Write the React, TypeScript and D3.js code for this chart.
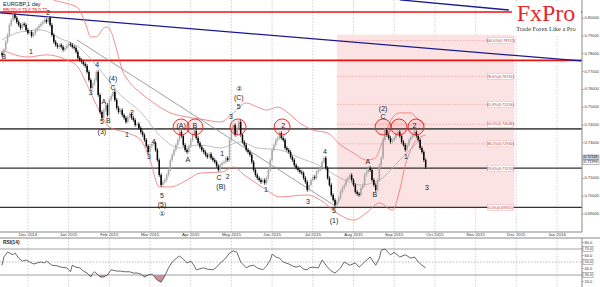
import React from 'react';
import * as d3 from 'd3';

// ---- data ----
const closes: number[] = [
  0.7794, 0.7822, 0.7867, 0.7906, 0.7962, 0.7990, 0.8018, 0.8002, 0.7979, 0.7962,
  0.7945, 0.7968, 0.7962, 0.7934, 0.7917, 0.7923, 0.7900, 0.7911, 0.7934, 0.7945,
  0.7957, 0.7968, 0.7979, 0.7990, 0.7979, 0.8002, 0.7962, 0.7906, 0.7867, 0.7850,
  0.7839, 0.7850, 0.7839, 0.7822, 0.7833, 0.7844, 0.7856, 0.7850, 0.7839, 0.7833,
  0.7811, 0.7777, 0.7765, 0.7754, 0.7743, 0.7732, 0.7698, 0.7653, 0.7608, 0.7631,
  0.7653, 0.7698, 0.7569, 0.7473, 0.7440, 0.7484, 0.7513, 0.7456, 0.7541, 0.7563,
  0.7586, 0.7541, 0.7496, 0.7473, 0.7484, 0.7456, 0.7440, 0.7417, 0.7445, 0.7462,
  0.7440, 0.7428, 0.7400, 0.7406, 0.7383, 0.7361, 0.7344, 0.7316, 0.7282, 0.7248,
  0.7282, 0.7293, 0.7299, 0.7260, 0.7203, 0.7119, 0.7063, 0.7080, 0.7091, 0.7119,
  0.7147, 0.7203, 0.7232, 0.7260, 0.7288, 0.7316, 0.7361, 0.7338, 0.7288, 0.7260,
  0.7248, 0.7282, 0.7316, 0.7344, 0.7366, 0.7327, 0.7299, 0.7277, 0.7260, 0.7248,
  0.7232, 0.7220, 0.7237, 0.7215, 0.7203, 0.7192, 0.7170, 0.7147, 0.7175, 0.7187,
  0.7192, 0.7215, 0.7203, 0.7316, 0.7372, 0.7400, 0.7344, 0.7383, 0.7417, 0.7344,
  0.7305, 0.7288, 0.7260, 0.7248, 0.7232, 0.7192, 0.7147, 0.7119, 0.7102, 0.7091,
  0.7080, 0.7091, 0.7074, 0.7102, 0.7147, 0.7203, 0.7260, 0.7288, 0.7316, 0.7327,
  0.7355, 0.7327, 0.7316, 0.7271, 0.7260, 0.7248, 0.7220, 0.7203, 0.7175, 0.7159,
  0.7147, 0.7136, 0.7130, 0.7102, 0.7080, 0.7035, 0.7063, 0.7091, 0.7108, 0.7102,
  0.7136, 0.7147, 0.7159, 0.7192, 0.7215, 0.7159, 0.7102, 0.7063, 0.7007, 0.6979,
  0.6951, 0.6968, 0.6990, 0.7024, 0.7046, 0.7063, 0.7091, 0.7102, 0.7119, 0.7091,
  0.7063, 0.7024, 0.7013, 0.7007, 0.7046, 0.7063, 0.7119, 0.7136, 0.7159, 0.7147,
  0.7091, 0.7063, 0.7035, 0.7091, 0.7175, 0.7215, 0.7316, 0.7372, 0.7344, 0.7327,
  0.7305, 0.7316, 0.7327, 0.7350, 0.7361, 0.7338, 0.7305, 0.7288, 0.7260, 0.7288,
  0.7316, 0.7333, 0.7344, 0.7361, 0.7338, 0.7316, 0.7271, 0.7248, 0.7203, 0.7164,
];

const upperBand: [number, number][] = [
  [15, 0.8215], [23, 0.8148], [28, 0.8103], [34, 0.8086], [41, 0.8058], [45, 0.7973],
  [48, 0.7895], [51, 0.7895], [55, 0.7945], [57, 0.7951], [59, 0.7923], [62, 0.7822],
  [65, 0.7709], [68, 0.7653], [75, 0.7580], [82, 0.7524], [91, 0.7468], [100, 0.7445],
  [107, 0.7434], [118, 0.7417], [125, 0.7468], [132, 0.7524], [138, 0.7501], [143, 0.7484],
  [149, 0.7501], [154, 0.7473], [161, 0.7411], [168, 0.7372], [176, 0.7355], [183, 0.7288],
  [190, 0.7243], [197, 0.7203], [202, 0.7215], [204, 0.7260], [208, 0.7372], [211, 0.7440],
  [215, 0.7468], [221, 0.7468], [224, 0.7440], [229, 0.7400],
];
const lowerBand: [number, number][] = [
  [0, 0.7822], [14, 0.7782], [24, 0.7794], [35, 0.7765], [41, 0.7726], [46, 0.7625],
  [51, 0.7513], [58, 0.7389], [68, 0.7355], [75, 0.7316], [80, 0.7203], [85, 0.7052],
  [91, 0.7052], [100, 0.7091], [107, 0.7130], [119, 0.7136], [125, 0.7164], [131, 0.7119],
  [143, 0.7035], [150, 0.6996], [165, 0.7007], [172, 0.6979], [181, 0.6906], [190, 0.6866],
  [197, 0.6906], [204, 0.6962], [211, 0.6922], [215, 0.7035], [218, 0.7175], [221, 0.7260],
  [224, 0.7316], [229, 0.7344],
];
const middleBand: [number, number][] = [
  [0, 0.7878], [10, 0.7923], [21, 0.7934], [31, 0.7889], [42, 0.7833], [53, 0.7709],
  [64, 0.7569], [75, 0.7473], [85, 0.7344], [96, 0.7271], [107, 0.7288], [118, 0.7271],
  [129, 0.7305], [138, 0.7271], [150, 0.7260], [161, 0.7215], [171, 0.7175], [183, 0.7102],
  [194, 0.7063], [204, 0.7091], [215, 0.7203], [226, 0.7316],
];

const rsi: [number, number][] = [
  [0, 45], [1, 57.7], [3, 65], [4, 64], [6, 61], [7, 64], [9, 56], [11, 51.5], [13, 53],
  [15, 50], [17, 47], [19, 48.5], [21, 50], [23, 48.5], [24, 51.5], [27, 45], [30, 44],
  [32, 42], [35, 41], [37, 35], [38, 45], [40, 42], [42, 41], [44, 36], [46, 33], [48, 27],
  [49, 32], [50, 35], [52, 30], [53, 27], [55, 27], [57, 30], [59, 38], [62, 36], [64, 36],
  [66, 35], [69, 35], [71, 33], [73, 33], [75, 31.5], [77, 27], [79, 30], [81, 31.5],
  [82, 28.5], [84, 22], [86, 19], [88, 28.5], [90, 41], [92, 50], [95, 57.7], [96, 59],
  [98, 54.6], [100, 48.5], [102, 51.5], [104, 44], [105, 38], [109, 41], [111, 39],
  [114, 38], [116, 42], [118, 48.5], [121, 56], [123, 64], [125, 67], [127, 65], [129, 50],
  [131, 44], [132, 41], [134, 44], [136, 45], [138, 41], [141, 38], [143, 44], [145, 53],
  [146, 62], [148, 57.7], [150, 56], [152, 50], [155, 47], [157, 44], [159, 42], [161, 44],
  [163, 39], [165, 38], [166, 41], [168, 42], [171, 41], [173, 53], [176, 42], [178, 36],
  [180, 33], [182, 38], [183, 41], [185, 50], [188, 45], [191, 48.5], [193, 42], [196, 50],
  [199, 57.7], [202, 45], [204, 56], [205, 68], [207, 70], [210, 61], [212, 65], [215, 57.7],
  [218, 61], [221, 56], [223, 57.7], [225, 50], [227, 45], [229, 41],
];

const monthLabels = ['Dec 2014', 'Jan 2015', 'Feb 2015', 'Mar 2015', 'Apr 2015', 'May 2015', 'Jun 2015',
  'Jul 2015', 'Aug 2015', 'Sep 2015', 'Oct 2015', 'Nov 2015', 'Dec 2015', 'Jan 2016'];
const monthBars = [14, 36, 58, 80, 102, 124, 146, 168, 190, 212, 234, 256, 278, 300];

const priceTicks = [0.80, 0.79, 0.78, 0.77, 0.76, 0.75, 0.74, 0.73, 0.71, 0.70, 0.69];
const rsiTicks = [80, 70, 60, 50, 40, 30, 20];

const redLevels = [0.8035, 0.7763];
const grayLevels = [0.7378, 0.7158, 0.6937];
const blueLine1: [number, number][] = [[-1, 0.8030], [313, 0.7760]];
const blueLine2: [number, number][] = [[215, 0.8103], [274, 0.8046]];
const grayTrend: [number, number][] = [[40.5, 0.7878], [181, 0.6939]];

const fibStart = 181, fibEnd = 277;
const fibLow = 0.69355, fibHigh = 0.78741;
const fibRatios = [1.0, 0.786, 0.618, 0.5, 0.382, 0.236, 0.0];

const waveLabels: [string, number, number][] = [
  ['B', 1, 0.7782], ['1', 15.7, 0.7810], ['2', 25, 0.8030], ['4', 51.4, 0.7737], ['3', 48, 0.7580],
  ['(4)', 60, 0.7658], ['C', 60, 0.7606], ['A', 55, 0.7529], ['B', 57.5, 0.7423], ['5', 54, 0.7414],
  ['(3)', 54, 0.7358], ['2', 70.3, 0.7468], ['1', 67.6, 0.7344], ['4', 82, 0.7305], ['3', 79.5, 0.7220],
  ['5', 86.5, 0.7000], ['(5)', 86.5, 0.6952], ['①', 86.5, 0.6900], ['(A)', 96.8, 0.7392],
  ['A', 100.5, 0.7203], ['B', 104.3, 0.7392], ['1', 119, 0.7237], ['C', 117.3, 0.7102],
  ['(B)', 118.4, 0.7050], ['2', 122, 0.7108], ['3', 123.8, 0.7445], ['5', 128, 0.7501],
  ['(C)', 128, 0.7552], ['②', 128, 0.7600], ['1', 142.7, 0.7035], ['2', 152, 0.7392],
  ['3', 165.4, 0.6967], ['4', 174.6, 0.7248], ['5', 179.5, 0.6914], ['(1)', 179.5, 0.6862],
  ['A', 197.8, 0.7192], ['B', 201.6, 0.7007], ['(2)', 206, 0.7490], ['C', 206, 0.7442],
  ['1', 218.4, 0.7220], ['2', 223, 0.7392], ['3', 229.7, 0.7046],
];
const circles: [number, number][] = [
  [96.8, 0.7389], [104.3, 0.7389], [127.6, 0.7389], [151.4, 0.7389], [206, 0.7389], [214.6, 0.7389], [223.8, 0.7389],
];

export default function App() {
  const W = 600, H = 287;
  const axisX = 582;
  const mainBottom = 232;
  const rsiTop = 238;
  const x = d3.scaleLinear().domain([0, 300]).range([2, 557]);
  const y = d3.scaleLinear().domain([0.69, 0.80]).range([214, 18.2]);
  const yr = d3.scaleLinear().domain([30, 70]).range([275, 249]);
  const font = 'Liberation Sans, Arial, sans-serif';

  const bandLine = d3.line<[number, number]>().x(d => x(d[0])).y(d => y(d[1])).curve(d3.curveMonotoneX);
  const rsiLine = d3.line<[number, number]>().x(d => x(d[0])).y(d => yr(d[1]));
  const rsiArea = d3.area<[number, number]>().x(d => x(d[0])).y0(yr(30)).y1(d => yr(d[1]));

  const fibY0 = y(fibLow), fibY1 = y(fibHigh) - 6;

  return (
    <div style={{ position: 'fixed', left: 0, top: 0 }}>
      <svg width={W} height={H} style={{ display: 'block', background: '#fff' }}>
        <defs>
          <clipPath id="main"><rect x={0} y={0} width={axisX} height={mainBottom} /></clipPath>
          <clipPath id="rsiBelow"><rect x={0} y={yr(30)} width={axisX} height={40} /></clipPath>
          <clipPath id="rsiPanel"><rect x={0} y={rsiTop} width={axisX} height={H - rsiTop} /></clipPath>
        </defs>

        {/* grid verticals */}
        {monthBars.map((b, i) => (
          <g key={'g' + i}>
            <line x1={x(b)} x2={x(b)} y1={0} y2={mainBottom} stroke="#c8c8c8" strokeWidth={0.8} strokeDasharray="1.5,1.5" />
            <line x1={x(b)} x2={x(b)} y1={rsiTop} y2={H} stroke="#c8c8c8" strokeWidth={0.8} strokeDasharray="1.5,1.5" />
          </g>
        ))}

        <g clipPath="url(#main)">
          {/* fibonacci zone */}
          <rect x={x(fibStart)} y={fibY1} width={x(fibEnd) - x(fibStart)} height={fibY0 - fibY1} fill="#fbe3e3" />
          {fibRatios.map((r, i) => {
            const p = fibLow + (fibHigh - fibLow) * r;
            return <line key={'f' + i} x1={x(fibStart)} x2={x(fibEnd)} y1={y(p)} y2={y(p)} stroke="#f2aaaa" strokeWidth={0.7} strokeDasharray="2,1" />;
          })}

          {/* horizontal levels */}
          {grayLevels.map((p, i) => (
            <line key={'gl' + i} x1={0} x2={axisX} y1={y(p)} y2={y(p)} stroke={i === 0 ? '#555' : '#333'} strokeWidth={i === 0 ? 1.6 : 1.3} />
          ))}
          {redLevels.map((p, i) => (
            <line key={'rl' + i} x1={0} x2={axisX} y1={y(p)} y2={y(p)} stroke="#f01010" strokeWidth={1.6} />
          ))}

          {/* trend lines */}
          <line x1={x(blueLine1[0][0])} y1={y(blueLine1[0][1])} x2={x(blueLine1[1][0])} y2={y(blueLine1[1][1])} stroke="#1a1a90" strokeWidth={1.3} />
          <line x1={x(blueLine2[0][0])} y1={y(blueLine2[0][1])} x2={x(blueLine2[1][0])} y2={y(blueLine2[1][1])} stroke="#1a1a90" strokeWidth={1.3} />
          <line x1={x(grayTrend[0][0])} y1={y(grayTrend[0][1])} x2={x(grayTrend[1][0])} y2={y(grayTrend[1][1])} stroke="#888" strokeWidth={0.8} />

          {/* bollinger */}
          <path d={bandLine(upperBand) || ''} fill="none" stroke="#f07070" strokeWidth={0.8} />
          <path d={bandLine(lowerBand) || ''} fill="none" stroke="#f07070" strokeWidth={0.8} />
          <path d={bandLine(middleBand) || ''} fill="none" stroke="#b0b0b0" strokeWidth={0.8} />

          {/* candles */}
          {closes.map((c, i) => {
            const o = i > 0 ? closes[i - 1] : c + 0.001;
            const up = c >= o;
            const top = y(Math.max(o, c));
            const bot = y(Math.min(o, c));
            const cx = x(i);
            const col = up ? '#a8a8a8' : '#000';
            return (
              <g key={'c' + i}>
                <line x1={cx} x2={cx} y1={top - 1.8} y2={bot + 1.8} stroke={col} strokeWidth={0.7} />
                <rect x={cx - 0.75} y={top} width={1.5} height={Math.max(0.8, bot - top)} fill={col} />
              </g>
            );
          })}

          {/* circles */}
          {circles.map((c, i) => (
            <circle key={'ci' + i} cx={x(c[0])} cy={y(c[1])} r={8} fill="rgba(255,0,0,0.08)" stroke="#e02020" strokeWidth={0.9} />
          ))}

          {/* wave labels */}
          {waveLabels.map((l, i) => (
            <text key={'w' + i} x={x(l[1])} y={y(l[2])} fontSize={7} fontFamily={font} textAnchor="middle" dominantBaseline="middle" fill="#222">{l[0]}</text>
          ))}

          {/* fib labels */}
          {fibRatios.map((r, i) => {
            const p = fibLow + (fibHigh - fibLow) * r;
            const t = `${(r * 100).toFixed(1)}%(${p.toFixed(5)})`;
            return (
              <g key={'fl' + i}>
                <rect x={x(fibEnd) - 27} y={y(p) - 3} width={26} height={6} fill="#fff" stroke="#f2aaaa" strokeWidth={0.5} />
                <text x={x(fibEnd) - 14} y={y(p) + 0.3} fontSize={3.8} fontFamily={font} textAnchor="middle" dominantBaseline="middle" fill="#c03030">{t}</text>
              </g>
            );
          })}
        </g>

        {/* logo */}
        <rect x={512} y={2} width={69} height={33} fill="#fff" />
        <text x={546} y={21} fontSize={24} fontFamily="Liberation Serif, Times New Roman, serif" textAnchor="middle" fill="#e8262d">FxPro</text>
        <text x={546} y={31} fontSize={6.4} fontFamily="Liberation Serif, Times New Roman, serif" textAnchor="middle" fill="#333">Trade Forex Like a Pro</text>

        {/* header */}
        <text x={3} y={5} fontSize={5.5} fontFamily={font} fill="#222" dominantBaseline="middle">EURGBP,1 day</text>
        <text x={3} y={10.5} fontSize={4.5} fontFamily={font} fill="#e02020" dominantBaseline="middle">BB(20) 0.79 0.78 0.77</text>

        {/* price axis */}
        <line x1={axisX} x2={axisX} y1={0} y2={mainBottom} stroke="#888" strokeWidth={1} />
        {priceTicks.map((p, i) => (
          <g key={'pt' + i}>
            <line x1={axisX} x2={axisX + 2} y1={y(p)} y2={y(p)} stroke="#888" strokeWidth={0.6} />
            <text x={axisX + 2.5} y={y(p)} fontSize={4} fontFamily={font} fill="#333" dominantBaseline="middle">{p.toFixed(5)}</text>
          </g>
        ))}
        <rect x={axisX + 1} y={155} width={16} height={4.5} fill="#c9d4e2" stroke="#555" strokeWidth={0.4} />
        <text x={axisX + 2} y={157.4} fontSize={3.8} fontFamily={font} fill="#111" dominantBaseline="middle">0.72118</text>
        <rect x={axisX + 1} y={160} width={16} height={4.5} fill="#fff" stroke="#555" strokeWidth={0.4} />
        <text x={axisX + 2} y={162.4} fontSize={3.8} fontFamily={font} fill="#111" dominantBaseline="middle">0.71993</text>

        {/* bottom axis */}
        <line x1={0} x2={axisX} y1={mainBottom} y2={mainBottom} stroke="#888" strokeWidth={1} />
        {monthLabels.map((m, i) => (
          <text key={'m' + i} x={x(monthBars[i])} y={235} fontSize={4.3} fontFamily={font} fill="#333" textAnchor="middle" dominantBaseline="middle">{m}</text>
        ))}

        {/* RSI panel */}
        <line x1={0} x2={600} y1={rsiTop} y2={rsiTop} stroke="#888" strokeWidth={1} />
        <line x1={axisX} x2={axisX} y1={rsiTop} y2={H} stroke="#888" strokeWidth={1} />
        <text x={3} y={243} fontSize={4.8} fontFamily={font} fontWeight="bold" fill="#222" dominantBaseline="middle">RSI(14)</text>
        <line x1={0} x2={axisX} y1={yr(70)} y2={yr(70)} stroke="#888" strokeWidth={0.8} />
        <line x1={0} x2={axisX} y1={yr(30)} y2={yr(30)} stroke="#888" strokeWidth={0.8} />
        <line x1={0} x2={axisX} y1={yr(50)} y2={yr(50)} stroke="#aaa" strokeWidth={0.8} strokeDasharray="1.5,1.5" />
        <g clipPath="url(#rsiPanel)">
          <path d={rsiArea(rsi) || ''} fill="#c89494" clipPath="url(#rsiBelow)" />
          <path d={rsiLine(rsi) || ''} fill="none" stroke="#444" strokeWidth={0.8} />
        </g>
        {rsiTicks.map((v, i) => (
          <g key={'rt' + i}>
            <line x1={axisX} x2={axisX + 2} y1={yr(v)} y2={yr(v)} stroke="#888" strokeWidth={0.6} />
            {(v === 70 || v === 50 || v === 30) ? (
              <rect x={axisX + 1} y={yr(v) - 2.3} width={10} height={4.6} fill="#fff" stroke="#555" strokeWidth={0.4} />
            ) : null}
            <text x={axisX + 2.5} y={yr(v)} fontSize={4} fontFamily={font} fill="#333" dominantBaseline="middle">{v.toFixed(1)}</text>
          </g>
        ))}
      </svg>
    </div>
  );
}
